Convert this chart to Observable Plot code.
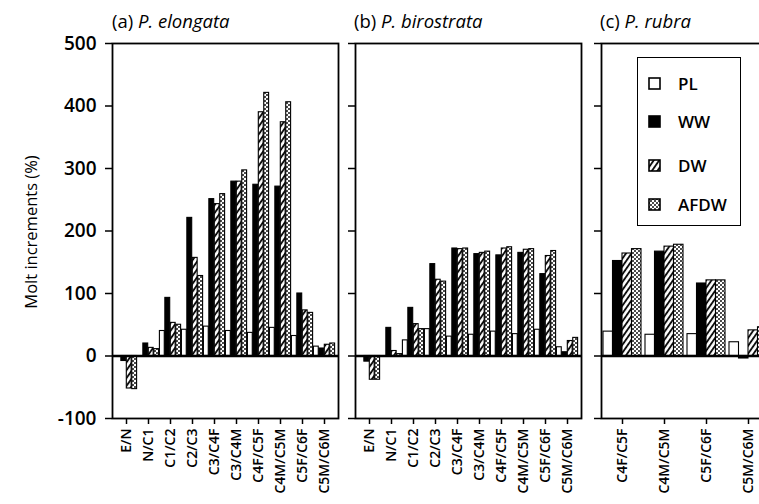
<!DOCTYPE html>
<html><head><meta charset="utf-8">
<script src="https://cdn.jsdelivr.net/npm/d3@7"></script>
<script src="https://cdn.jsdelivr.net/npm/@observablehq/plot@0.6"></script>
<style>
html,body{margin:0;padding:0;background:#fff;overflow:hidden;}
#wrap{position:relative;width:759px;height:504px;overflow:hidden;font-family:"Open Sans",sans-serif;color:#000;}
.pan{position:absolute;top:0;}
.pan svg{max-width:none;}
.ttl{position:absolute;top:8px;font-size:18.5px;white-space:nowrap;font-weight:500;}
.ttl i{font-style:italic;}
#ylab{position:absolute;left:30px;top:232px;transform:translate(-50%,-50%) rotate(-90deg);font-size:16.5px;white-space:nowrap;font-weight:500;}
#legend{position:absolute;left:637px;top:57px;width:104px;height:169px;border:1.6px solid #000;box-sizing:border-box;background:#fff;}
.li{position:absolute;left:10px;height:20px;display:flex;align-items:center;font-size:17px;font-weight:600;}
.li svg{margin-right:17px;}
</style></head><body>
<svg width="0" height="0" style="position:absolute">
<defs>
<pattern id="hatch" width="4.5" height="4.5" patternUnits="userSpaceOnUse" patternTransform="rotate(35)">
<rect width="4.5" height="4.5" fill="white"/><line x1="1" y1="-1" x2="1" y2="5.5" stroke="black" stroke-width="1.8"/>
</pattern>
<pattern id="dots" width="4" height="4" patternUnits="userSpaceOnUse">
<rect width="4" height="4" fill="white"/><circle cx="1" cy="1" r="0.95" fill="black"/><circle cx="3" cy="3" r="0.95" fill="black"/>
</pattern>
</defs></svg>
<div id="wrap">
<div id="ylab">Molt increments (%)</div>
<div class="ttl" style="left:112px">(a) <i>P. elongata</i></div>
<div class="ttl" style="left:354px">(b) <i>P. birostrata</i></div>
<div class="ttl" style="left:600px">(c) <i>P. rubra</i></div>
</div>
<script>
// ---- data ----
const series = ["PL", "WW", "DW", "AFDW"];
const fills = ["white", "black", "url(#hatch)", "url(#dots)"];
const stagesAB = ["E/N","N/C1","C1/C2","C2/C3","C3/C4F","C3/C4M","C4F/C5F","C4M/C5M","C5F/C6F","C5M/C6M"];
const stagesC = ["C4F/C5F","C4M/C5M","C5F/C6F","C5M/C6M"];
const yTicks = [-100, 0, 100, 200, 300, 400, 500];

// (a) P. elongata
const elongataPL   = [0, 0, 40, 42, 47, 40, 37, 45, 32, 15];
const elongataWW   = [-8, 20, 93, 221, 251, 279, 274, 271, 100, 12];
const elongataDW   = [-52, 13, 53, 157, 243, 279, 390, 374, 73, 18];
const elongataAFDW = [-53, 11, 50, 128, 259, 297, 421, 406, 69, 20];
// (b) P. birostrata
const birostrataPL   = [0, 0, 25, 43, 31, 34, 39, 35, 42, 14];
const birostrataWW   = [-9, 45, 77, 147, 172, 163, 161, 165, 131, 6];
const birostrataDW   = [-38, 8, 51, 122, 171, 165, 172, 170, 160, 24];
const birostrataAFDW = [-38, 3, 43, 119, 172, 167, 174, 171, 168, 29];
// (c) P. rubra
const rubraPL   = [39, 34, 35, 22];
const rubraWW   = [152, 167, 116, -4];
const rubraDW   = [164, 175, 121, 41];
const rubraAFDW = [171, 178, 121, 46];

function panel({stages, values, left, width, marginLeft, marginRight, labels, pad}) {
  const band = (width - marginLeft - marginRight) / stages.length;
  const bw = (band - 2 * pad) / 4;
  const marks = [];
  values.forEach((vals, j) => {
    marks.push(Plot.barY(stages.map((s, i) => ({stage: s, value: vals[i], series: series[j]})), {
      x: "stage", y: "value", fill: fills[j], stroke: "black", strokeWidth: 1.1,
      insetLeft: pad + j * bw, insetRight: pad + (3 - j) * bw
    }));
  });
  marks.push(Plot.ruleY([0], {strokeWidth: 2.4}));
  marks.push(Plot.frame({strokeWidth: 1.8}));
  marks.push(Plot.axisY({ticks: yTicks, tickSize: 7, tickPadding: 9, fontSize: 19, strokeWidth: 1.5,
    tickFormat: labels ? (d => String(d)) : (() => ""), label: null}));
  marks.push(Plot.axisX({tickRotate: -90, tickSize: 6, tickPadding: 4, fontSize: 14, strokeWidth: 1.5, label: null}));
  const svg = Plot.plot({
    width, height: 504, marginLeft, marginRight, marginTop: 43, marginBottom: 86,
    style: {fontFamily: "'Open Sans', sans-serif", fontWeight: 600, background: "transparent", overflow: "visible"},
    x: {domain: stages, padding: 0},
    y: {domain: [-100, 500]},
    marks
  });
  const div = document.createElement("div");
  div.className = "pan";
  div.style.left = left + "px";
  div.appendChild(svg);
  document.getElementById("wrap").appendChild(div);
}

panel({stages: stagesAB, values: [elongataPL, elongataWW, elongataDW, elongataAFDW],
  left: 0, width: 345, marginLeft: 112, marginRight: 7, labels: true, pad: 0.4});
panel({stages: stagesAB, values: [birostrataPL, birostrataWW, birostrataDW, birostrataAFDW],
  left: 345, width: 243, marginLeft: 10, marginRight: 7, labels: false, pad: 0.4});
panel({stages: stagesC, values: [rubraPL, rubraWW, rubraDW, rubraAFDW],
  left: 588, width: 186, marginLeft: 13, marginRight: 5, labels: false, pad: 2});

// legend
const legend = document.createElement("div");
legend.id = "legend";
const rowsY = [15, 53, 97, 136];
series.forEach((s, j) => {
  const row = document.createElement("div");
  row.className = "li";
  row.style.top = rowsY[j] + "px";
  row.innerHTML = `<svg width="13" height="13"><rect x="1" y="1" width="11" height="11" fill="${fills[j]}" stroke="black" stroke-width="1.6"/></svg><span>${s}</span>`;
  legend.appendChild(row);
});
document.getElementById("wrap").appendChild(legend);
</script>
</body></html>
